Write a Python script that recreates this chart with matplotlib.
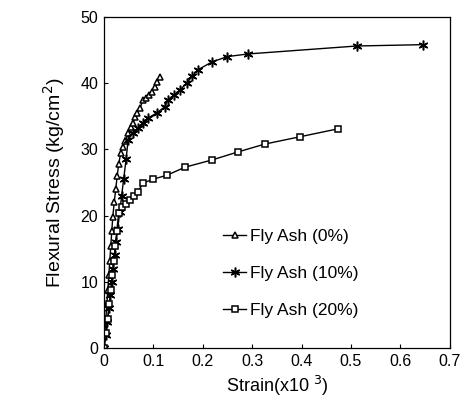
import matplotlib
matplotlib.use("Agg")
import matplotlib.pyplot as plt

plt.rcParams['font.family'] = ['Liberation Sans', 'DejaVu Sans']

# Fly Ash 0% (triangles)
strain_0 = [0, 0.002, 0.004, 0.006, 0.008, 0.010, 0.012, 0.014, 0.016, 0.018,
            0.021, 0.024, 0.027, 0.030, 0.034, 0.038, 0.043, 0.049, 0.054,
            0.059, 0.063, 0.068, 0.073, 0.079, 0.085, 0.091, 0.097, 0.103,
            0.108, 0.113]
stress_0 = [0, 2.2, 4.4, 6.6, 8.8, 11.0, 13.2, 15.4, 17.6, 19.8,
            22.0, 24.0, 26.0, 27.8, 29.4, 30.3, 31.2, 32.5, 33.3,
            33.9, 34.9, 35.5, 36.2, 37.4, 37.8, 38.2, 38.6, 39.4,
            40.1, 40.9]

# Fly Ash 10% (stars)
strain_10 = [0, 0.004, 0.007, 0.010, 0.013, 0.016, 0.019, 0.022, 0.025, 0.028,
             0.032, 0.036, 0.040, 0.045, 0.049, 0.059, 0.069, 0.079, 0.089,
             0.107, 0.123, 0.130, 0.142, 0.154, 0.168, 0.178, 0.190, 0.219,
             0.250, 0.292, 0.512, 0.645]
stress_10 = [0, 2.0, 4.0, 6.0, 8.0, 10.0, 12.0, 14.0, 16.0, 18.0,
             20.5, 23.0, 25.5, 28.5, 31.4, 32.5, 33.2, 34.0, 34.7,
             35.5, 36.4, 37.5, 38.2, 39.0, 40.0, 41.0, 42.0, 43.2,
             44.0, 44.4, 45.6, 45.8]

# Fly Ash 20% (squares)
strain_20 = [0, 0.005, 0.008, 0.011, 0.014, 0.017, 0.020, 0.023, 0.026, 0.030,
             0.036, 0.045, 0.053, 0.061, 0.069, 0.079, 0.100, 0.128, 0.164,
             0.219, 0.271, 0.326, 0.397, 0.474]
stress_20 = [0, 2.2, 4.4, 6.6, 8.8, 11.0, 13.2, 15.4, 17.6, 20.4,
             21.3, 21.8, 22.4, 23.0, 23.6, 24.9, 25.5, 26.1, 27.3,
             28.4, 29.6, 30.8, 31.9, 33.1]

labels = ["Fly Ash (0%)", "Fly Ash (10%)", "Fly Ash (20%)"]

fig = plt.figure(figsize=(4.7, 4.01), dpi=100)
ax = fig.add_axes([0.221, 0.132, 0.736, 0.826])

ax.plot(strain_0, stress_0, color='black', lw=1.0, marker='^', ms=5,
        mfc='white', mec='black', mew=1.1, label=labels[0])
ax.plot(strain_10, stress_10, color='black', lw=1.0, marker=(6, 2, 0), ms=7,
        mec='black', mew=1.1, label=labels[1])
ax.plot(strain_20, stress_20, color='black', lw=1.0, marker='s', ms=4,
        mfc='white', mec='black', mew=1.1, label=labels[2])

ax.set_xlim(0, 0.7)
ax.set_ylim(0, 50)
ax.set_xticks([0, 0.1, 0.2, 0.3, 0.4, 0.5, 0.6, 0.7])
ax.set_xticklabels(['0', '0.1', '0.2', '0.3', '0.4', '0.5', '0.6', '0.7'])
ax.set_yticks([0, 10, 20, 30, 40, 50])
ax.tick_params(direction='in', length=3, labelsize=11.5, pad=4)
for s in ax.spines.values():
    s.set_linewidth(0.9)

ax.set_xlabel("Strain(x10 $^{3}$)", fontsize=13, labelpad=4)
ax.set_ylabel("Flexural Stress (kg/cm$^{2}$)", fontsize=14, labelpad=10)

ax.legend(loc='center left', bbox_to_anchor=(0.3, 0.225), frameon=False,
          fontsize=12.5, handlelength=1.3, handletextpad=0.25, labelspacing=1.25)

fig.savefig("out.png", dpi=100)
